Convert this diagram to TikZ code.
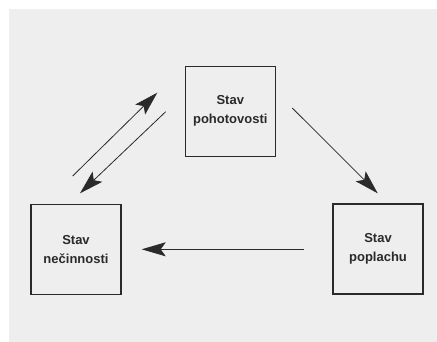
\documentclass[tikz,border=0pt]{standalone}
\usepackage{fontspec}
\setmainfont{Liberation Sans}
\usetikzlibrary{arrows.meta}
\definecolor{bg}{HTML}{EEEEEE}
\definecolor{ink}{HTML}{2A2A2A}
\begin{document}
\begin{tikzpicture}[x=1pt,y=-1pt,
  statebox/.style={draw=ink, line width=1.1pt, minimum width=90pt, minimum height=90pt,
    inner sep=0pt, align=center, font=\fontsize{13}{19}\selectfont\bfseries, text=ink},
  conn/.style={draw=ink, line width=0.8pt, -{Stealth[length=24pt,width=14pt,inset=5pt]}}]
\useasboundingbox (0,0) rectangle (437,342);
\fill[bg] (9,9) rectangle (437,342);
\node[statebox] (poh) at (230.3,111.2) {Stav\\pohotovosti};
\node[statebox] (nec) at (76,249.5) {Stav\\nečinnosti};
\node[statebox] (popl) at (378,249) {Stav\\poplachu};
\coordinate (a1s) at (72.7,176);
\coordinate (a1e) at (157.3,92.7);
\coordinate (a2s) at (165.7,111.7);
\coordinate (a2e) at (80,193.3);
\coordinate (a3s) at (292.3,108);
\coordinate (a3e) at (377.7,193.3);
\coordinate (a4s) at (303.7,249.3);
\coordinate (a4e) at (141.7,249.3);
\draw[conn] (a1s) -- (a1e);
\draw[conn] (a2s) -- (a2e);
\draw[conn] (a3s) -- (a3e);
\draw[conn] (a4s) -- (a4e);
\end{tikzpicture}
\end{document}
